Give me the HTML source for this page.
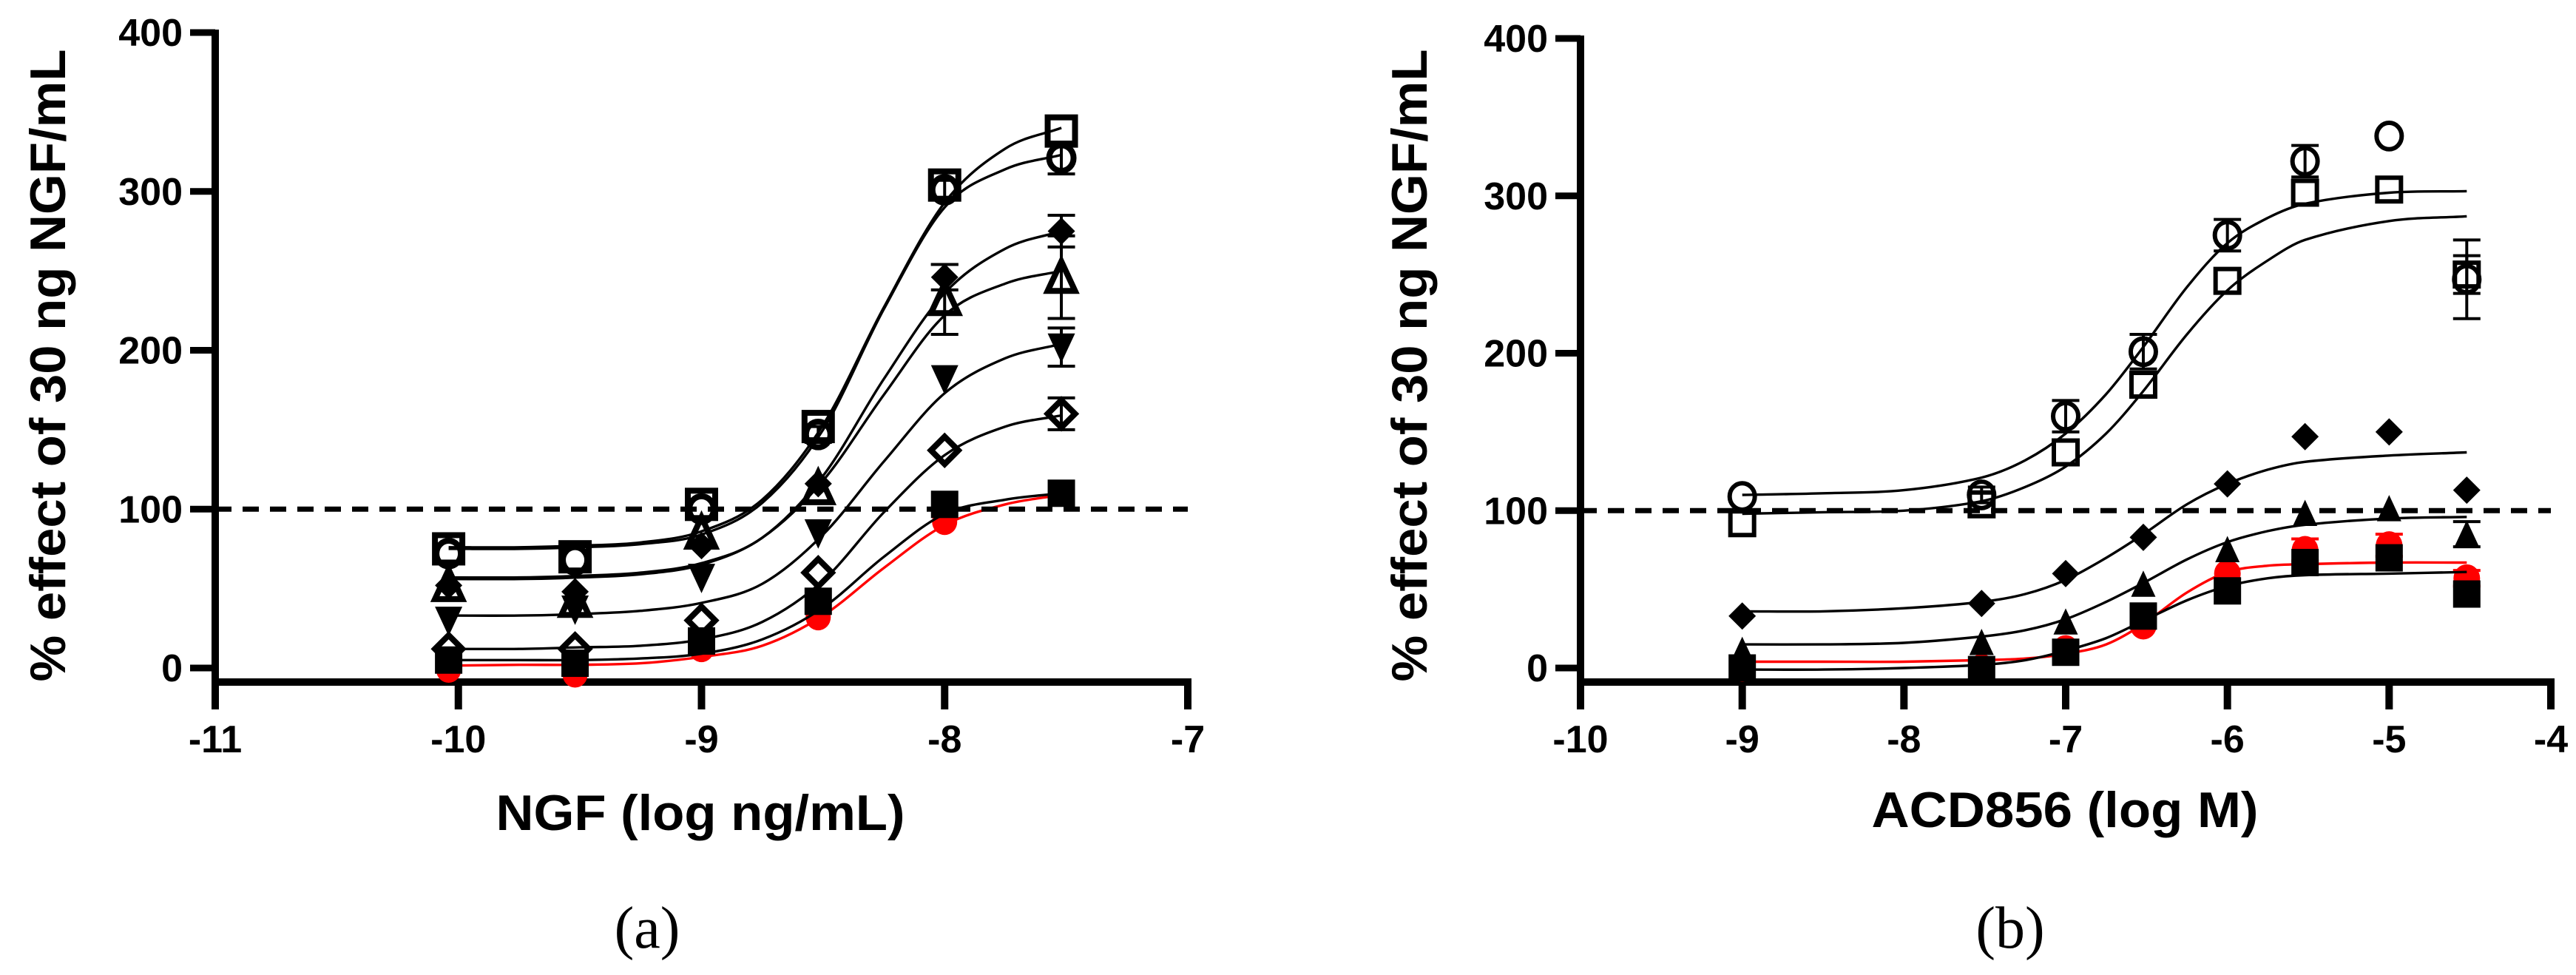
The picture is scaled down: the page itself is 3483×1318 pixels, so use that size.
<!DOCTYPE html>
<html lang="en">
<head>
<meta charset="utf-8">
<title>Dose-response curves</title>
<style>
  html, body { margin: 0; padding: 0; background: #fff; }
  svg { display: block; }
  text { font-family: "Liberation Sans", Arial, sans-serif; font-weight: 700; fill: #000; }
  .caption { font-family: "Liberation Serif", "Times New Roman", serif; font-weight: 400; font-size: 80px; }
</style>
</head>
<body>
<svg id="figure" xmlns="http://www.w3.org/2000/svg" width="3483" height="1318" viewBox="0 0 3483 1318">
  <rect x="0" y="0" width="3483" height="1318" fill="#fff"/>
  <g id="panel-a"></g>
  <g id="panel-b"></g>
  <text class="caption" x="875" y="1281" text-anchor="middle">(a)</text>
  <text class="caption" x="2718" y="1281" text-anchor="middle">(b)</text>
</svg>
<script>
// ---------- Panel (a) data ----------
const aDoses = [-10.04, -9.52, -9, -8.52, -8, -7.52];
const aCurveX = [-10.04, -9.75, -9.5, -9.25, -9, -8.75, -8.5, -8.25, -8, -7.75, -7.52];
const aXTicks = [-11, -10, -9, -8, -7];
const aYTicks = [0, 100, 200, 300, 400];

const aRedMean = [-1, -4, 12, 32, 92, 110];
const aRedCurve = [1.5, 2, 2, 3, 7, 14, 33, 63, 90, 103, 109];
const aRedErr = [0, 0, 0, 0, 0, 0];

const aFilledSquareMean = [5, 3, 17, 42, 103, 110];
const aFilledSquareCurve = [5, 5, 5, 6, 9, 18, 38, 70, 97, 106, 110];
const aFilledSquareErr = [0, 0, 0, 0, 0, 0];

const aOpenDiamondMean = [12, 12, 30, 60, 137, 160];
const aOpenDiamondCurve = [12, 12, 13, 14, 18, 29, 55, 98, 134, 152, 159];
const aOpenDiamondErr = [0, 0, 0, 0, 0, 10];

const aDownTriangleMean = [30, 37, 57, 85, 182, 202];
const aDownTriangleCurve = [33, 33, 34, 36, 41, 53, 84, 130, 173, 195, 204];
const aDownTriangleErr = [0, 0, 0, 0, 0, 12];

const aOpenTriangleMean = [52, 42, 85, 113, 232, 246];
const aOpenTriangleCurve = [56, 56, 57, 59, 65, 82, 118, 172, 222, 242, 250];
const aOpenTriangleErr = [0, 0, 0, 0, 22, 26];

const aFilledDiamondMean = [52, 48, 77, 116, 246, 275];
const aFilledDiamondCurve = [57, 57, 58, 60, 66, 82, 121, 182, 236, 264, 275];
const aFilledDiamondErr = [0, 0, 0, 0, 8, 10];

const aCircleMean = [72, 68, 100, 147, 301, 321];
const aCircleCurve = [75, 75, 76, 78, 84, 104, 150, 226, 290, 314, 323];
const aCircleErr = [0, 0, 0, 5, 6, 10];

const aOpenSquareMean = [75, 70, 103, 152, 304, 338];
const aOpenSquareCurve = [76, 76, 77, 79, 86, 106, 153, 227, 293, 327, 340];
const aOpenSquareErr = [0, 0, 0, 0, 0, 0];

// ---------- Panel (b) data ----------
const bDoses = [-9, -7.52, -7, -6.52, -6, -5.52, -5, -4.52];
const bCurveX = [-9, -8.5, -8, -7.52, -7.25, -7, -6.75, -6.52, -6.25, -6, -5.75, -5.52, -5, -4.52];
const bXTicks = [-10, -9, -8, -7, -6, -5, -4];
const bYTicks = [0, 100, 200, 300, 400];

const bRedMean = [0, 0, 12, 27, 60, 75, 78, 57];
const bRedCurve = [4, 4, 4, 5, 6, 9, 15, 28, 48, 61, 65, 66, 67, 67];
const bRedErr = [0, 0, 0, 0, 0, 7, 7, 5];

const bSquareFilledMean = [0, -1, 10, 33, 49, 67, 70, 47];
const bSquareFilledCurve = [-1, -1, 0, 2, 5, 11, 19, 30, 43, 52, 57, 59, 60, 61];
const bSquareFilledErr = [0, 0, 0, 0, 0, 0, 0, 0];

const bTriangleMean = [11, 16, 29, 53, 75, 98, 101, 85];
const bTriangleCurve = [15, 15, 16, 20, 24, 31, 42, 54, 69, 80, 87, 91, 95, 96];
const bTriangleErr = [0, 0, 0, 0, 0, 0, 0, 8];

const bDiamondMean = [33, 41, 60, 83, 117, 147, 150, 113];
const bDiamondCurve = [36, 36, 38, 42, 47, 56, 70, 85, 104, 117, 126, 131, 135, 137];
const bDiamondErr = [0, 0, 0, 0, 0, 0, 0, 0];

const bOpenSquareMean = [92, 104, 137, 180, 246, 302, 304, 250];
const bOpenSquareCurve = [98, 99, 100, 106, 115, 128, 149, 176, 212, 240, 259, 272, 284, 287];
const bOpenSquareErr = [0, 0, 0, 0, 0, 0, 0, 12];

const bCircleMean = [109, 110, 160, 201, 275, 322, 338, 247];
const bCircleCurve = [110, 111, 113, 121, 132, 149, 174, 204, 242, 270, 286, 295, 302, 303];
const bCircleErr = [0, 5, 10, 11, 10, 10, 0, 25];

// ---------- Rendering ----------
const SVGNS = 'http://www.w3.org/2000/svg';

function make(tag, parent, attrs) {
  const node = document.createElementNS(SVGNS, tag);
  for (const k in attrs) node.setAttribute(k, attrs[k]);
  parent.appendChild(node);
  return node;
}

// Smooth cubic Hermite through unevenly spaced points
function smoothPath(pts) {
  const n = pts.length;
  const slope = i => {
    const a = pts[Math.max(i - 1, 0)], b = pts[Math.min(i + 1, n - 1)];
    return (b[1] - a[1]) / (b[0] - a[0]);
  };
  let d = 'M' + pts[0][0].toFixed(1) + ' ' + pts[0][1].toFixed(1);
  for (let i = 0; i < n - 1; i++) {
    const p1 = pts[i], p2 = pts[i + 1];
    const dx = (p2[0] - p1[0]) / 3;
    const c1x = p1[0] + dx, c1y = p1[1] + slope(i) * dx;
    const c2x = p2[0] - dx, c2y = p2[1] - slope(i + 1) * dx;
    d += 'C' + c1x.toFixed(1) + ' ' + c1y.toFixed(1) + ' ' + c2x.toFixed(1) + ' ' + c2y.toFixed(1) + ' ' + p2[0].toFixed(1) + ' ' + p2[1].toFixed(1);
  }
  return d;
}

function drawMarker(group, shape, cx, cy, size, stroke, color) {
  const r = size / 2;
  const open = shape.indexOf('open') === 0;
  const inset = open ? stroke / 2 : 0;
  const ri = r - inset;
  const paint = open
    ? { fill: 'none', stroke: color, 'stroke-width': stroke }
    : { fill: color };
  let node;
  if (shape.indexOf('square') >= 0) {
    node = make('rect', group, Object.assign({ x: cx - ri, y: cy - ri, width: ri * 2, height: ri * 2 }, paint));
  } else if (shape.indexOf('circle') >= 0) {
    node = make('ellipse', group, Object.assign({ cx: cx, cy: cy, rx: ri, ry: ri * 1.05 }, paint));
  } else if (shape.indexOf('diamond') >= 0) {
    const pts = [[cx, cy - ri * 1.0], [cx + ri, cy], [cx, cy + ri * 1.0], [cx - ri, cy]];
    node = make('polygon', group, Object.assign({ points: pts.map(p => p.join(',')).join(' ') }, paint));
  } else if (shape.indexOf('down') >= 0) {
    const pts = [[cx - ri, cy - ri], [cx + ri, cy - ri], [cx, cy + ri * 1.15]];
    node = make('polygon', group, Object.assign({ points: pts.map(p => p.join(',')).join(' ') }, paint));
  } else {
    const pts = [[cx, cy - ri * 1.15], [cx + ri, cy + ri], [cx - ri, cy + ri]];
    node = make('polygon', group, Object.assign({ points: pts.map(p => p.join(',')).join(' ') }, paint));
  }
  return node;
}

function drawPanel(cfg) {
  const root = document.getElementById(cfg.id);
  const xScale = v => cfg.x0 + (v - cfg.xMin) * (cfg.x1 - cfg.x0) / (cfg.xMax - cfg.xMin);
  const yScale = v => cfg.y0 + (v - 0) * (cfg.y400 - cfg.y0) / 400;

  // Axes
  const axes = make('g', root, {});
  
  

  const yAxis = make('line', axes, { x1: cfg.x0, x2: cfg.x0, y1: yScale(400) - 4, y2: cfg.axisY + 5, stroke: '#000', 'stroke-width': 10 });
  
  

  const xAxis = make('line', axes, { x1: cfg.x0 - 5, x2: xScale(cfg.xMax) + 5, y1: cfg.axisY, y2: cfg.axisY, stroke: '#000', 'stroke-width': 10 });
  
  

  cfg.xTicks.forEach(t => {
    const x = xScale(t);
    const tick = make('line', axes, { x1: x, x2: x, y1: cfg.axisY, y2: cfg.axisY + 37, stroke: '#000', 'stroke-width': 10 });
    
    
    const label = make('text', axes, { x: x, y: 1017, 'text-anchor': 'middle', 'font-size': 52 });
    label.textContent = String(t);
    
    
  });

  cfg.yTicks.forEach(t => {
    const y = yScale(t);
    const tick = make('line', axes, { x1: cfg.x0 - 34, x2: cfg.x0, y1: y, y2: y, stroke: '#000', 'stroke-width': 9 });
    
    
    const label = make('text', axes, { x: cfg.x0 - 44, y: y + 18, 'text-anchor': 'end', 'font-size': 52 });
    label.textContent = String(t);
    
    
  });

  const yTitle = make('text', axes, {
    x: 0, y: 0, 'font-size': 68, 'text-anchor': 'middle',
    textLength: 855, lengthAdjust: 'spacingAndGlyphs',
    transform: 'translate(' + cfg.yTitleX + ' 494) rotate(-90)'
  });
  yTitle.textContent = '% effect of 30 ng NGF/mL';
  
  

  const xTitle = make('text', axes, {
    x: cfg.xTitleX, y: cfg.xTitleY, 'font-size': 68, 'text-anchor': 'middle',
    textLength: cfg.xTitleLen, lengthAdjust: 'spacingAndGlyphs'
  });
  xTitle.textContent = cfg.xTitle;
  
  

  // Series, bottom-most first
  cfg.series.forEach(s => {
    const color = s.color || '#000';
    const group = make('g', root, {});
    
    

    const pts = cfg.curveX.map((x, i) => [xScale(x), yScale(s.curve[i])]);
    const curve = make('path', group, { d: smoothPath(pts), fill: 'none', stroke: color, 'stroke-width': 3.4 });
    
    

    cfg.doses.forEach((dose, i) => {
      const cx = xScale(dose);
      const err = s.err[i];
      if (err > 0) {
        const top = yScale(s.mean[i] + err), bottom = yScale(s.mean[i] - err);
        const half = cfg.capHalf;
        const bar = make('path', group, {
          d: 'M' + cx + ' ' + top + 'V' + bottom + 'M' + (cx - half) + ' ' + top + 'H' + (cx + half) + 'M' + (cx - half) + ' ' + bottom + 'H' + (cx + half),
          fill: 'none', stroke: color, 'stroke-width': 4
        });
        
        
      }
      const mark = drawMarker(group, s.shape, cx, yScale(s.mean[i]), s.size, cfg.markerStroke, color);
      
      
    });
  });

  // Reference line on top of everything except the top-drawn markers
  const ref = make('line', root, {
    x1: cfg.x0, x2: xScale(cfg.xMax), y1: yScale(100), y2: yScale(100),
    stroke: '#000', 'stroke-width': 7, 'stroke-dasharray': '22 15'
  });
  
  
}

drawPanel({
  id: 'panel-a', x0: 291, x1: 1606, xMin: -11, xMax: -7, y0: 903, y400: 44, axisY: 922,
  xTicks: aXTicks, yTicks: aYTicks, doses: aDoses, curveX: aCurveX,
  yTitleX: 88, xTitle: 'NGF (log ng/mL)', xTitleX: 947, xTitleY: 1122, xTitleLen: 553,
  capHalf: 18.5, markerStroke: 8,
  series: [
    { key: 'red-circle', shape: 'circle', size: 34, color: '#ff0000', mean: aRedMean, curve: aRedCurve, err: aRedErr },
    { key: 'filled-square', shape: 'square', size: 37, mean: aFilledSquareMean, curve: aFilledSquareCurve, err: aFilledSquareErr },
    { key: 'open-diamond', shape: 'open-diamond', size: 45, mean: aOpenDiamondMean, curve: aOpenDiamondCurve, err: aOpenDiamondErr },
    { key: 'down-triangle', shape: 'down-triangle', size: 37, mean: aDownTriangleMean, curve: aDownTriangleCurve, err: aDownTriangleErr },
    { key: 'open-triangle', shape: 'open-triangle', size: 45, mean: aOpenTriangleMean, curve: aOpenTriangleCurve, err: aOpenTriangleErr },
    { key: 'filled-diamond', shape: 'diamond', size: 37, mean: aFilledDiamondMean, curve: aFilledDiamondCurve, err: aFilledDiamondErr },
    { key: 'open-circle', shape: 'open-circle', size: 41, mean: aCircleMean, curve: aCircleCurve, err: aCircleErr },
    { key: 'open-square', shape: 'open-square', size: 45, mean: aOpenSquareMean, curve: aOpenSquareCurve, err: aOpenSquareErr }
  ]
});

drawPanel({
  id: 'panel-b', x0: 2137, x1: 3449, xMin: -10, xMax: -4, y0: 903, y400: 52, axisY: 922,
  xTicks: bXTicks, yTicks: bYTicks, doses: bDoses, curveX: bCurveX,
  yTitleX: 1929, xTitle: 'ACD856 (log M)', xTitleX: 2792, xTitleY: 1118, xTitleLen: 523,
  capHalf: 18.5, markerStroke: 6,
  series: [
    { key: 'red-circle', shape: 'circle', size: 36, color: '#ff0000', mean: bRedMean, curve: bRedCurve, err: bRedErr },
    { key: 'filled-square', shape: 'square', size: 37, mean: bSquareFilledMean, curve: bSquareFilledCurve, err: bSquareFilledErr },
    { key: 'filled-triangle', shape: 'triangle', size: 33, mean: bTriangleMean, curve: bTriangleCurve, err: bTriangleErr },
    { key: 'filled-diamond', shape: 'diamond', size: 37, mean: bDiamondMean, curve: bDiamondCurve, err: bDiamondErr },
    { key: 'open-square', shape: 'open-square', size: 38, mean: bOpenSquareMean, curve: bOpenSquareCurve, err: bOpenSquareErr },
    { key: 'open-circle', shape: 'open-circle', size: 40, mean: bCircleMean, curve: bCircleCurve, err: bCircleErr }
  ]
});
</script>
</body>
</html>
